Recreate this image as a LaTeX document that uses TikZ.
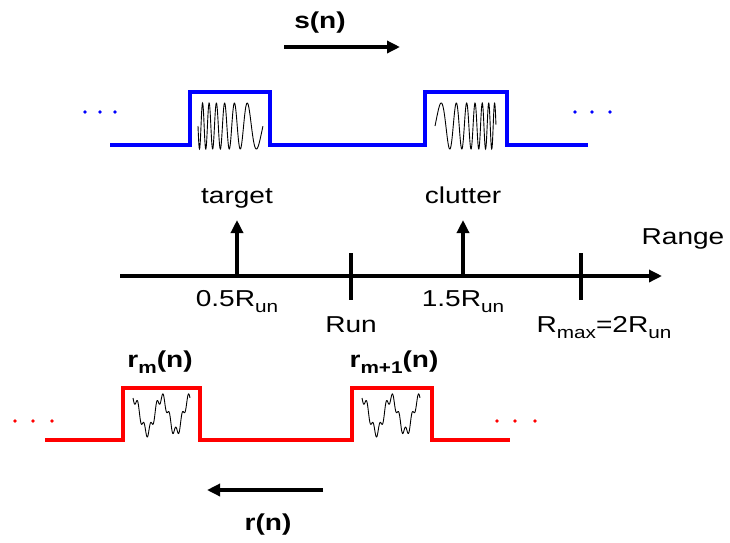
\documentclass[tikz,border=0pt]{standalone}
\usepackage{fontspec}
\usepackage{graphicx}
\setmainfont{Liberation Sans}
\usetikzlibrary{arrows.meta}

\newcommand{\wide}[1]{\scalebox{1.22}[1]{#1}}
\newcommand{\lowtext}[1]{\raisebox{-0.5ex}{\fontsize{17}{17}\selectfont #1}}

\begin{document}
\begin{tikzpicture}[
    x=1pt, y=-1pt,
    pulse/.style={line width=4.6pt, line join=miter},
    wave/.style={line width=0.9pt, black},
    arrow/.style={-{Triangle[length=13pt,width=12pt]}, line width=3.5pt},
    tickmark/.style={line width=3.5pt},
    labelstyle/.style={anchor=base, font=\fontsize{23}{23}\selectfont},
    titlestyle/.style={anchor=base, font=\fontsize{23}{23}\selectfont\bfseries}
]
\useasboundingbox (0,0) rectangle (730,542);

% ==================== TRANSMITTED SIGNAL ====================
\node[titlestyle] (s-label) at (320,28) {\wide{s(n)}};
\coordinate (s-tail) at (284,47);
\coordinate (s-head) at (400,47);
\draw[arrow] (s-tail) -- (s-head);

\draw[pulse, blue] (110,145) -- (190,145) -- (190,92) -- (270,92) -- (270,145)
    -- (425,145) -- (425,92) -- (507,92) -- (507,145) -- (588,145);
\foreach \dx in {85,100,115,575,592,610}
    \fill[blue] (\dx,112) circle (1.9pt);

% chirps
\draw[wave] plot[domain=0:1, samples=300, smooth]
    ({198+65*\x}, {126+23*sin(360*(11*\x-4.5*\x*\x))});
\draw[wave] plot[domain=0:1, samples=300, smooth]
    ({435+61*\x}, {126-23*sin(360*(2*\x+4.5*\x*\x))});

% ==================== RANGE AXIS ====================
\coordinate (axis-start) at (120,276);
\coordinate (axis-end) at (662,276);
\draw[arrow] (axis-start) -- (axis-end);
\node[labelstyle] (range) at (683,244) {\wide{Range}};

\node[labelstyle] (target) at (237,203) {\wide{target}};
\node[labelstyle] (clutter) at (463,203) {\wide{clutter}};
\coordinate (target-base) at (237,276);
\coordinate (target-top) at (237,220);
\coordinate (clutter-base) at (463,276);
\coordinate (clutter-top) at (463,220);
\draw[arrow] (target-base) -- (target-top);
\draw[arrow] (clutter-base) -- (clutter-top);

\draw[tickmark] (351,253) -- (351,300);
\draw[tickmark] (581,253) -- (581,300);

\node[labelstyle] (half-run) at (237,306) {\wide{0.5R\lowtext{un}}};
\node[labelstyle] (run) at (351,332) {\wide{Run}};
\node[labelstyle] (three-half-run) at (463,306) {\wide{1.5R\lowtext{un}}};
\node[labelstyle] (rmax) at (604,332) {\wide{R\lowtext{max}=2R\lowtext{un}}};

% ==================== RECEIVED SIGNAL ====================
\node[titlestyle] (rm-label) at (160,367) {\wide{r\lowtext{m}(n)}};
\node[titlestyle] (rm1-label) at (394,367) {\wide{r\lowtext{m+1}(n)}};

\draw[pulse, red] (45,440) -- (123,440) -- (123,388) -- (200,388) -- (200,440)
    -- (352,440) -- (352,388) -- (432,388) -- (432,440) -- (510,440);
\foreach \dx in {15,33,52,497,515,535}
    \fill[red] (\dx,421) circle (1.9pt);

% echoes
\draw[wave] plot[domain=0:1, samples=300, smooth]
    ({133+57*\x}, {415-17*cos(720*\x)+5*sin(360*9*\x)});
\draw[wave] plot[domain=0:1, samples=300, smooth]
    ({362+58*\x}, {415-17*cos(720*\x)+5*sin(360*9*\x)});

\coordinate (r-tail) at (323,490);
\coordinate (r-head) at (207,490);
\draw[arrow] (r-tail) -- (r-head);
\node[titlestyle] (r-label) at (268,530) {\wide{r(n)}};

\end{tikzpicture}
\end{document}
